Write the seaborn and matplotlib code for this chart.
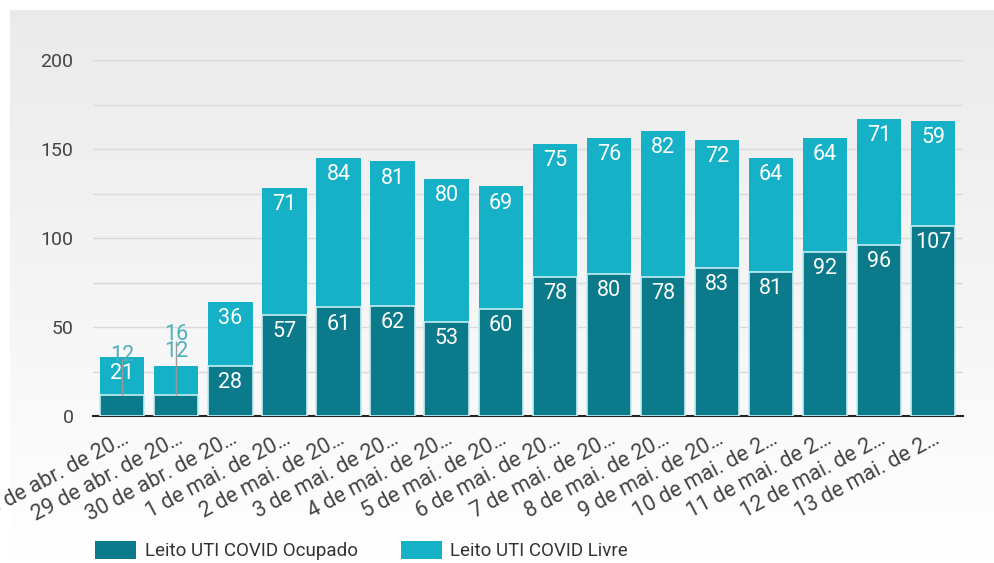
import numpy as np
import pandas as pd
import matplotlib
matplotlib.use("Agg")
import matplotlib.pyplot as plt
import seaborn as sns
from matplotlib.patches import Patch

# ---- data ----
dates = ["28 de abr. de 20…", "29 de abr. de 20…", "30 de abr. de 20…",
         "1 de mai. de 20…", "2 de mai. de 20…", "3 de mai. de 20…",
         "4 de mai. de 20…", "5 de mai. de 20…", "6 de mai. de 20…",
         "7 de mai. de 20…", "8 de mai. de 20…", "9 de mai. de 20…",
         "10 de mai. de 2…", "11 de mai. de 2…", "12 de mai. de 2…",
         "13 de mai. de 2…"]
ocupado = [12, 12, 28, 57, 61, 62, 53, 60, 78, 80, 78, 83, 81, 92, 96, 107]
livre = [21, 16, 36, 71, 84, 81, 80, 69, 75, 76, 82, 72, 64, 64, 71, 59]
series_names = ["Leito UTI COVID Ocupado", "Leito UTI COVID Livre"]

DARK = "#0b7b8b"
LIGHT = "#16b1c7"

sns.set_theme(style="white")
plt.rcParams['font.family'] = ['Roboto', 'DejaVu Sans']

df = pd.DataFrame({"data": dates, "ocupado": ocupado, "livre": livre})
df["total"] = df["ocupado"] + df["livre"]

fig = plt.figure(figsize=(9.94, 5.63), dpi=100)
fig.patch.set_facecolor("white")

# background gradient panel
bg = fig.add_axes([10 / 994, 0, 1 - 10 / 994, 1 - 10 / 563], zorder=-10)
grad = np.linspace(0.92, 1.0, 256).reshape(-1, 1)
bg.imshow(np.dstack([grad, grad, grad]), aspect="auto", extent=[0, 1, 0, 1], origin="upper")
bg.axis("off")

ax = fig.add_axes([93 / 994, 1 - 416 / 563, (963 - 93) / 994, (416 - 60) / 563])
ax.set_facecolor("none")
ax.set_axisbelow(True)

sns.barplot(data=df, x="data", y="total", color=LIGHT, width=0.82,
            saturation=1, ax=ax, linewidth=0, zorder=2)
sns.barplot(data=df, x="data", y="ocupado", color=DARK, width=0.82,
            saturation=1, ax=ax, edgecolor="#c4eef3", linewidth=1.2, zorder=3)

ax.set_ylim(0, 200)
ax.set_xlim(-0.54, 15.55)
ax.set_yticks(np.arange(0, 201, 50))
ax.set_yticks(np.arange(0, 201, 25), minor=True)
ax.yaxis.grid(True, which="both", color="#d9d9d9", linewidth=1)
ax.xaxis.grid(False)
for s in ["top", "right", "left"]:
    ax.spines[s].set_visible(False)
ax.spines["bottom"].set_color("#222222")
ax.spines["bottom"].set_linewidth(1.5)
ax.tick_params(axis="both", which="both", length=0)
ax.tick_params(axis="y", pad=14, labelsize=14, labelcolor="#444444")
ax.tick_params(axis="x", pad=9, labelsize=15.5, labelcolor="#444444")
ax.set_xlabel("")
ax.set_ylabel("")
plt.setp(ax.get_xticklabels(), rotation=28, ha="right", rotation_mode="anchor")

# value labels
lab_kw = dict(ha="center", va="center", fontsize=15.5, zorder=5)
for i, (o, l) in enumerate(zip(ocupado, livre)):
    tot = o + l
    outside = []
    if o >= 18:
        ax.annotate(str(o), (i, o), xytext=(0, -12), textcoords="offset points",
                    color="white", **lab_kw)
    else:
        outside.append(o)
    if l >= 18:
        ax.annotate(str(l), (i, tot), xytext=(0, -12), textcoords="offset points",
                    color="white", **lab_kw)
    else:
        outside.append(l)
    if outside:
        n = len(outside)
        base = tot + (1 if n == 1 else 8)
        for k, v in enumerate(outside):
            ax.text(i, base + 10 * k, str(v), color="#4fb0bd", **lab_kw)
        ax.vlines(i, o, base + 10 * (n - 1) - 4 + (2 if n == 1 else 0),
                  color="#9a9a9a", linewidth=1, zorder=4)

handles = [Patch(facecolor=DARK, edgecolor="none"), Patch(facecolor=LIGHT, edgecolor="none")]
fig.legend(handles, series_names, loc="lower left", bbox_to_anchor=(95 / 994, 3 / 563),
           ncol=2, frameon=False, fontsize=13.5, handlelength=2.2, handleheight=1.1,
           handletextpad=0.45, columnspacing=2.3, borderpad=0, borderaxespad=0,
           labelcolor="#333333")

fig.savefig("out.png", dpi=100)
